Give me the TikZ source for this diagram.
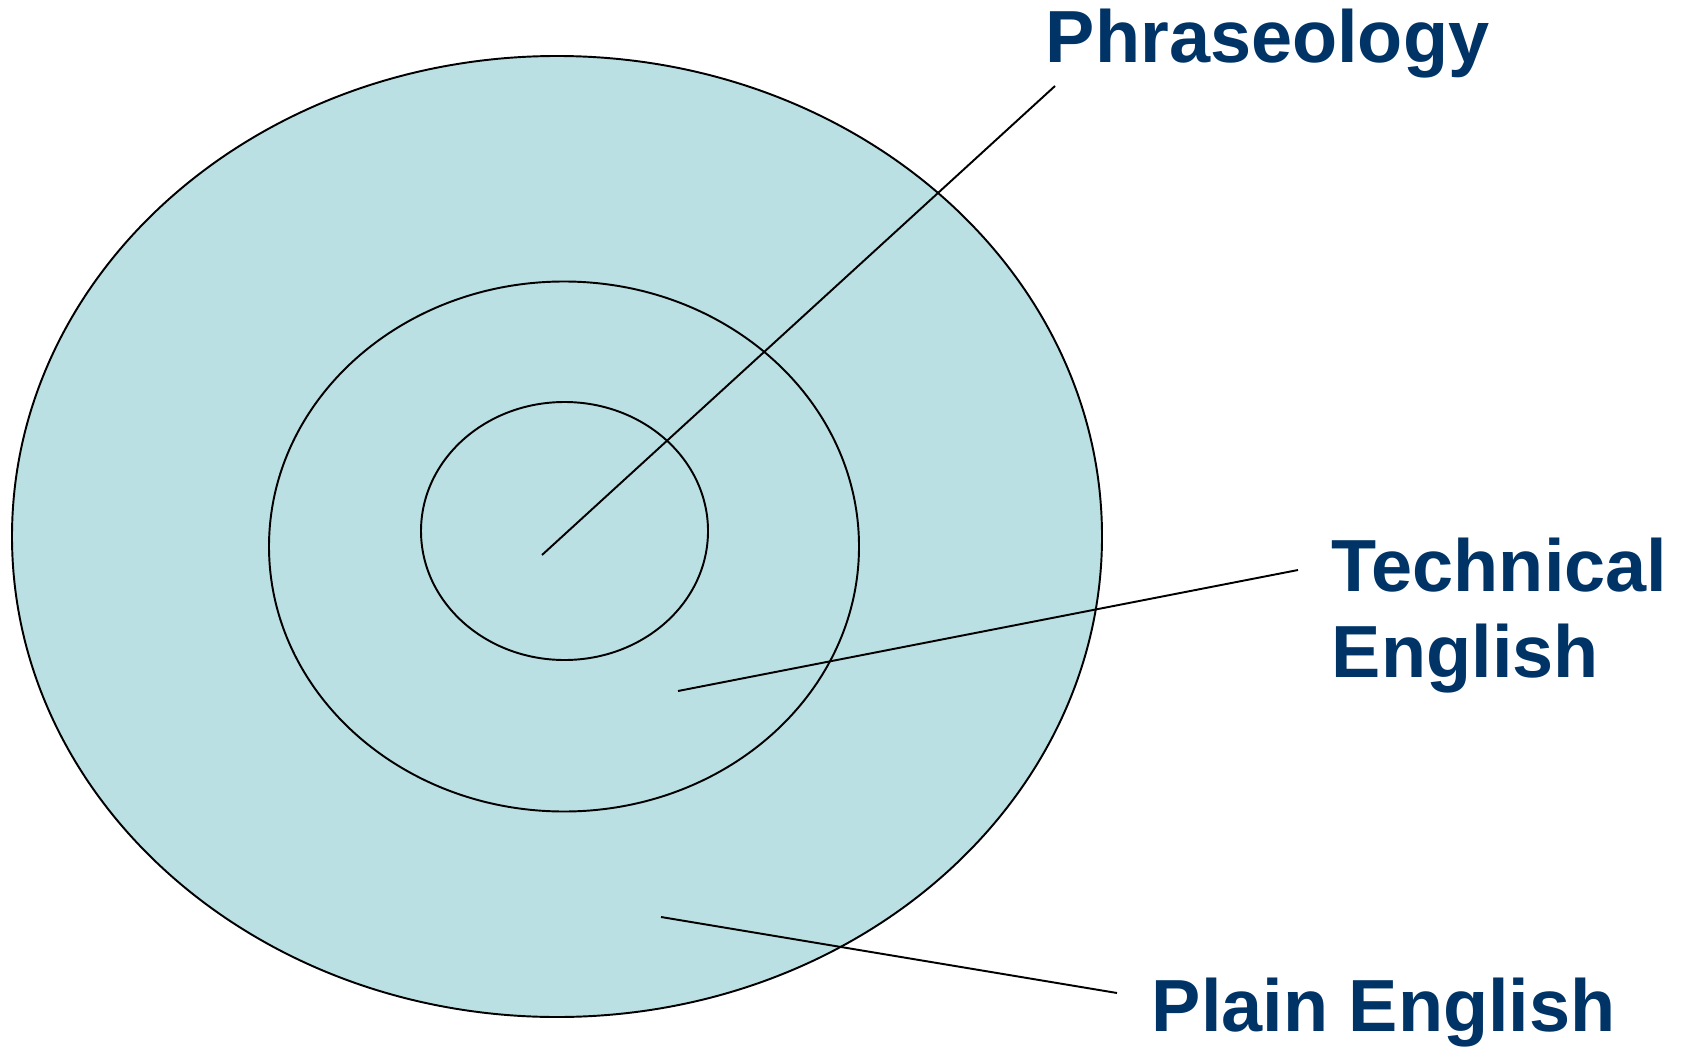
\documentclass[tikz,border=0pt]{standalone}
\usepackage{fontspec}
\setmainfont{Liberation Sans}
\usepackage{tikz}
\usetikzlibrary{positioning}
\definecolor{Pale}{HTML}{BBE0E3}
\definecolor{Navy}{HTML}{003366}

\begin{document}
\begin{tikzpicture}[x=0.01cm,y=-0.01cm,line width=.55pt,
    label/.style={anchor=base west,inner sep=0pt,text=Navy,font=\bfseries\fontsize{21}{24.2}\selectfont,align=left}]
        \useasboundingbox (0,0) rectangle (1692,1046);
        \filldraw[fill=Pale] (557,536.5) ellipse [x radius=545,y radius=480.5];
        \draw (564,546.5) ellipse [x radius=295,y radius=265];
        \draw (564.5,531) ellipse [x radius=143.5,y radius=129];
        \node[label] (phrase) at (1045,63) {Phraseology};
        \node[label] (tech) at (1331,677) {Technical\\English};
        \node[label] (plain) at (1151,1031) {Plain English};
        \coordinate (phrase-in) at (542,555);
        \coordinate (phrase-out) at (1055,86);
        \coordinate (tech-in) at (678,691);
        \coordinate (tech-out) at (1298,570);
        \coordinate (plain-in) at (661,917);
        \coordinate (plain-out) at (1117,993);
        \draw (phrase-in)--(phrase-out);
        \draw (tech-in)--(tech-out);
        \draw (plain-in)--(plain-out);
      \end{tikzpicture}
\end{document}
